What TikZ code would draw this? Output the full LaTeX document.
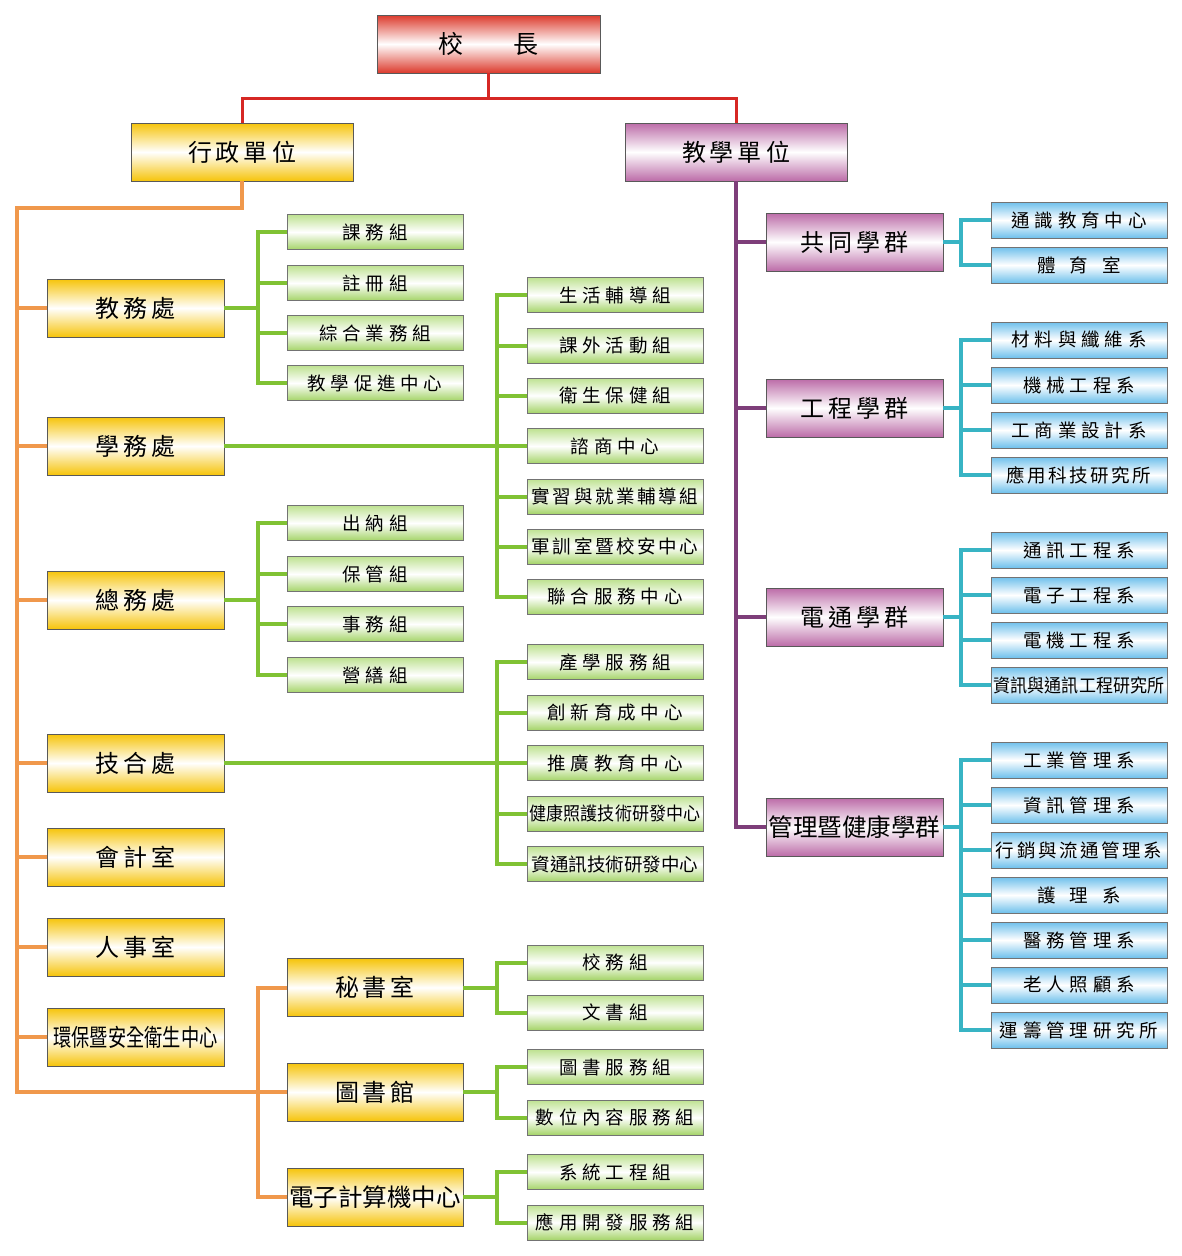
\documentclass[tikz,border=0pt]{standalone}
\usepackage{fontspec}
\setmainfont{Noto Sans CJK TC}
\usepackage{graphicx}
\def\mylsA#1#2{\def\mylsamt{#1}\mylsfirst#2\relax}
\def\mylsfirst#1{#1\mylsrest}
\def\mylsrest#1{\ifx\relax#1\else\hspace{\mylsamt}#1\expandafter\mylsrest\fi}
\definecolor{cred}{RGB}{220,58,44}
\definecolor{cyel}{RGB}{246,196,10}
\definecolor{cpur}{RGB}{188,108,168}
\definecolor{cgrn}{RGB}{165,212,105}
\definecolor{cgrnt}{RGB}{190,226,145}
\definecolor{cblu}{RGB}{110,192,236}
\definecolor{lred}{RGB}{214,40,36}
\definecolor{lora}{RGB}{240,152,76}
\definecolor{lgrn}{RGB}{128,194,52}
\definecolor{lpur}{RGB}{126,62,122}
\definecolor{ltea}{RGB}{56,180,196}
\tikzset{
  box/.style={draw=black!65, line width=0.9pt, inner sep=0pt},
  redb/.style={box, minimum width=223pt, minimum height=58pt, top color=cred, bottom color=cred, middle color=white, font=\fontsize{25}{25}\selectfont},
  yelb/.style={box, minimum width=177pt, minimum height=58pt, top color=cyel, bottom color=cyel, middle color=white, font=\fontsize{24}{24}\selectfont},
  purb/.style={box, minimum width=177pt, minimum height=58pt, top color=cpur, bottom color=cpur, middle color=white, font=\fontsize{24}{24}\selectfont},
  grnb/.style={box, draw=black!55, minimum width=176pt, minimum height=35pt, top color=cgrnt, bottom color=cgrn, middle color=white, font=\fontsize{18.5}{18.5}\selectfont},
  blub/.style={box, draw=black!55, minimum width=176pt, minimum height=36pt, top color=cblu, bottom color=cblu, middle color=white, font=\fontsize{18.5}{18.5}\selectfont},
  rline/.style={draw=lred, line width=3pt},
  oline/.style={draw=lora, line width=4pt},
  gline/.style={draw=lgrn, line width=4pt},
  pline/.style={draw=lpur, line width=4.5pt},
  tline/.style={draw=ltea, line width=4pt},
}
\newcommand\mybranch[5]{%
  \draw[#1] (#2.east) -- (#2.east -| #3);
  \draw[#1] (#4.west) -| (#3 |- #5.west) -- (#5.west);
}
\begin{document}
\begin{tikzpicture}[x=1pt,y=-1pt]
\useasboundingbox (0,0) rectangle (1182,1256);
% top
\node[redb] (pres) at (488.5,44) {校\hspace{50pt}長};
\node[yelb, minimum width=222pt] (xz) at (242,152) {\mylsA{4pt}{行政單位}};
\node[purb, minimum width=222pt] (jx) at (736,152) {\mylsA{4pt}{教學單位}};
\coordinate (rb) at (488.5,98);
% left column
\node[yelb] (jw) at (135.5,308) {\mylsA{4pt}{教務處}};
\node[yelb] (xw) at (135.5,446) {\mylsA{4pt}{學務處}};
\node[yelb] (zw) at (135.5,600) {\mylsA{4pt}{總務處}};
\node[yelb] (jh) at (135.5,763) {\mylsA{4pt}{技合處}};
\node[yelb] (kj) at (135.5,857) {\mylsA{4pt}{會計室}};
\node[yelb] (rs) at (135.5,947) {\mylsA{4pt}{人事室}};
\node[yelb] (hb) at (135.5,1037) {\scalebox{0.76}[1]{環保暨安全衛生中心}};
% middle yellow
\node[yelb, minimum width=176pt] (ms) at (375,987.5) {\mylsA{4pt}{秘書室}};
\node[yelb, minimum width=176pt] (lib) at (375,1092) {\mylsA{4pt}{圖書館}};
\node[yelb, minimum width=176pt] (cc) at (375,1197) {\fontsize{24.5}{24.5}\selectfont 電子計算機中心};
% green col A
\node[grnb] (a1) at (375,232) {\mylsA{4.8pt}{課務組}};
\node[grnb] (a2) at (375,283) {\mylsA{4.8pt}{註冊組}};
\node[grnb] (a3) at (375,333) {\mylsA{4.8pt}{綜合業務組}};
\node[grnb] (a4) at (375,383) {\mylsA{4.8pt}{教學促進中心}};
\node[grnb] (b1) at (375,523) {\mylsA{4.8pt}{出納組}};
\node[grnb] (b2) at (375,574) {\mylsA{4.8pt}{保管組}};
\node[grnb] (b3) at (375,624) {\mylsA{4.8pt}{事務組}};
\node[grnb] (b4) at (375,675) {\mylsA{4.8pt}{營繕組}};
% green col B
\node[grnb] (c1) at (615,295) {\mylsA{4.8pt}{生活輔導組}};
\node[grnb] (c2) at (615,345.5) {\mylsA{4.8pt}{課外活動組}};
\node[grnb] (c3) at (615,395.5) {\mylsA{4.8pt}{衛生保健組}};
\node[grnb] (c4) at (615,446) {\mylsA{4.8pt}{諮商中心}};
\node[grnb] (c5) at (615,496.5) {\mylsA{2.6pt}{實習與就業輔導組}};
\node[grnb] (c6) at (615,546.5) {\mylsA{2.6pt}{軍訓室暨校安中心}};
\node[grnb] (c7) at (615,597) {\mylsA{4.8pt}{聯合服務中心}};
\node[grnb] (d1) at (615,662) {\mylsA{4.8pt}{產學服務組}};
\node[grnb] (d2) at (615,712.5) {\mylsA{4.8pt}{創新育成中心}};
\node[grnb] (d3) at (615,763) {\mylsA{4.8pt}{推廣教育中心}};
\node[grnb] (d4) at (615,813.5) {\scalebox{0.92}[1]{健康照護技術研發中心}};
\node[grnb] (d5) at (615,864) {資通訊技術研發中心};
\node[grnb] (e1) at (615,962.5) {\mylsA{4.8pt}{校務組}};
\node[grnb] (e2) at (615,1012.5) {\mylsA{4.8pt}{文書組}};
\node[grnb] (f1) at (615,1067) {\mylsA{4.8pt}{圖書服務組}};
\node[grnb] (f2) at (615,1117.5) {\mylsA{4.8pt}{數位內容服務組}};
\node[grnb] (h1) at (615,1172) {\mylsA{4.8pt}{系統工程組}};
\node[grnb] (h2) at (615,1222.5) {\mylsA{4.8pt}{應用開發服務組}};
% purple
\node[purb] (p1) at (854.5,242) {\mylsA{4pt}{共同學群}};
\node[purb] (p2) at (854.5,408) {\mylsA{4pt}{工程學群}};
\node[purb] (p3) at (854.5,617) {\mylsA{4pt}{電通學群}};
\node[purb] (p4) at (854.5,827) {\fontsize{24.5}{24.5}\selectfont 管理暨健康學群};
% blue
\node[blub] (q1) at (1079,220) {\mylsA{4.8pt}{通識教育中心}};
\node[blub] (q2) at (1079,265) {體\hspace{14pt}育\hspace{14pt}室};
\node[blub] (r1) at (1079,340) {\mylsA{4.8pt}{材料與纖維系}};
\node[blub] (r2) at (1079,385) {\mylsA{4.8pt}{機械工程系}};
\node[blub] (r3) at (1079,430) {\mylsA{4.8pt}{工商業設計系}};
\node[blub] (r4) at (1079,475) {\mylsA{2.5pt}{應用科技研究所}};
\node[blub] (s1) at (1079,550) {\mylsA{4.8pt}{通訊工程系}};
\node[blub] (s2) at (1079,595) {\mylsA{4.8pt}{電子工程系}};
\node[blub] (s3) at (1079,640) {\mylsA{4.8pt}{電機工程系}};
\node[blub] (s4) at (1079,685) {\scalebox{0.92}[1]{資訊與通訊工程研究所}};
\node[blub] (t1) at (1079,760) {\mylsA{4.8pt}{工業管理系}};
\node[blub] (t2) at (1079,805) {\mylsA{4.8pt}{資訊管理系}};
\node[blub] (t3) at (1079,850) {\mylsA{2.6pt}{行銷與流通管理系}};
\node[blub] (t4) at (1079,895) {護\hspace{14pt}理\hspace{14pt}系};
\node[blub] (t5) at (1079,940) {\mylsA{4.8pt}{醫務管理系}};
\node[blub] (t6) at (1079,985) {\mylsA{4.8pt}{老人照顧系}};
\node[blub] (t7) at (1079,1030) {\mylsA{4.8pt}{運籌管理研究所}};
% bus coordinates
\coordinate (ot) at (17,208);
\coordinate (om) at (258,0);
\coordinate (gA) at (258,0);
\coordinate (gB) at (497,0);
\coordinate (tb) at (961,0);
% connectors (drawn behind boxes is not needed since they touch edges)
\draw[rline] (pres.south) -- (rb);
\draw[rline] (xz.north) |- (rb) -| (jx.north);
\draw[oline] (xz.south) |- (ot) -- (ot |- lib.west) -- (lib.west);
\foreach \n in {jw,xw,zw,jh,kj,rs,hb} {\draw[oline] (\n.west -| ot) -- (\n.west);}
\draw[oline] (ms.west) -| (om |- cc.west) -- (cc.west);
% green groups
\mybranch{gline}{jw}{gA}{a1}{a4}
\foreach \c in {a2,a3} {\draw[gline] (\c.west -| gA) -- (\c.west);}
\mybranch{gline}{zw}{gA}{b1}{b4}
\foreach \c in {b2,b3} {\draw[gline] (\c.west -| gA) -- (\c.west);}
\mybranch{gline}{xw}{gB}{c1}{c7}
\foreach \c in {c2,c3,c4,c5,c6} {\draw[gline] (\c.west -| gB) -- (\c.west);}
\mybranch{gline}{jh}{gB}{d1}{d5}
\foreach \c in {d2,d3,d4} {\draw[gline] (\c.west -| gB) -- (\c.west);}
\mybranch{gline}{ms}{gB}{e1}{e2}
\mybranch{gline}{lib}{gB}{f1}{f2}
\mybranch{gline}{cc}{gB}{h1}{h2}
% purple
\draw[pline] (jx.south) |- (p4.west);
\foreach \c in {p1,p2,p3} {\draw[pline] (\c.west -| jx.south) -- (\c.west);}
% teal
\mybranch{tline}{p1}{tb}{q1}{q2}
\mybranch{tline}{p2}{tb}{r1}{r4}
\foreach \c in {r2,r3} {\draw[tline] (\c.west -| tb) -- (\c.west);}
\mybranch{tline}{p3}{tb}{s1}{s4}
\foreach \c in {s2,s3} {\draw[tline] (\c.west -| tb) -- (\c.west);}
\mybranch{tline}{p4}{tb}{t1}{t7}
\foreach \c in {t2,t3,t4,t5,t6} {\draw[tline] (\c.west -| tb) -- (\c.west);}
\end{tikzpicture}
\end{document}
